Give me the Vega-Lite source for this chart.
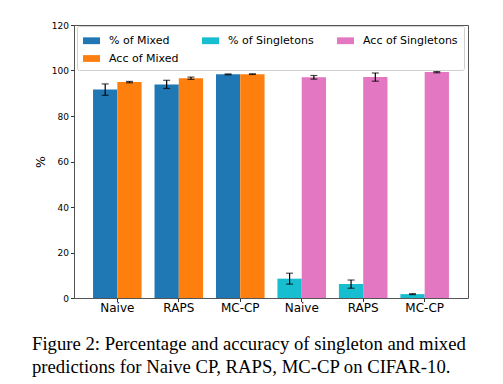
{
  "$schema": "https://vega.github.io/schema/vega-lite/v6.json",
  "width": 394,
  "height": 273,
  "autosize": "none",
  "padding": {"left": 74, "top": 25, "right": 35, "bottom": 86},
  "background": "white",
  "config": {
    "view": {"stroke": "#555", "strokeWidth": 1},
    "font": "DejaVu Sans"
  },
  "title": {
    "text": ["Figure 2: Percentage and accuracy of singleton and mixed", "predictions for Naive CP, RAPS, MC-CP on CIFAR-10."],
    "orient": "bottom",
    "anchor": "start",
    "frame": "group",
    "font": "Liberation Serif",
    "fontSize": 18.7,
    "fontWeight": "normal",
    "color": "black",
    "lineHeight": 23.5,
    "dx": -42,
    "offset": 21
  },
  "data": {
    "values": [
      {"grp": "Naive|M", "sub": "pct", "series": "% of Mixed", "value": 91.6, "lo": 89.1, "hi": 94.1},
      {"grp": "Naive|M", "sub": "acc", "series": "Acc of Mixed", "value": 94.9, "lo": 94.6, "hi": 95.2},
      {"grp": "RAPS|M", "sub": "pct", "series": "% of Mixed", "value": 93.9, "lo": 92.1, "hi": 95.7},
      {"grp": "RAPS|M", "sub": "acc", "series": "Acc of Mixed", "value": 96.6, "lo": 96.1, "hi": 97.1},
      {"grp": "MC-CP|M", "sub": "pct", "series": "% of Mixed", "value": 98.3, "lo": 98.1, "hi": 98.5},
      {"grp": "MC-CP|M", "sub": "acc", "series": "Acc of Mixed", "value": 98.4, "lo": 98.25, "hi": 98.55},
      {"grp": "Naive|S", "sub": "pct", "series": "% of Singletons", "value": 8.5, "lo": 6.1, "hi": 10.9},
      {"grp": "Naive|S", "sub": "acc", "series": "Acc of Singletons", "value": 97.0, "lo": 96.2, "hi": 97.8},
      {"grp": "RAPS|S", "sub": "pct", "series": "% of Singletons", "value": 6.1, "lo": 4.3, "hi": 7.9},
      {"grp": "RAPS|S", "sub": "acc", "series": "Acc of Singletons", "value": 97.1, "lo": 95.3, "hi": 98.9},
      {"grp": "MC-CP|S", "sub": "pct", "series": "% of Singletons", "value": 1.7, "lo": 1.5, "hi": 1.9},
      {"grp": "MC-CP|S", "sub": "acc", "series": "Acc of Singletons", "value": 99.3, "lo": 99.0, "hi": 99.6}
    ]
  },
  "encoding": {
    "x": {
      "field": "grp",
      "type": "nominal",
      "scale": {
        "domain": ["Naive|M", "RAPS|M", "MC-CP|M", "Naive|S", "RAPS|S", "MC-CP|S"],
        "paddingInner": 0.21,
        "paddingOuter": 0.31
      },
      "axis": {
        "title": null,
        "labelExpr": "split(datum.value, '|')[0]",
        "labelAngle": 0,
        "labelFontSize": 12,
        "labelColor": "black",
        "labelPadding": 1,
        "tickSize": 3.5,
        "tickColor": "#333",
        "domain": false
      }
    },
    "xOffset": {"field": "sub", "type": "nominal", "scale": {"domain": ["pct", "acc"]}}
  },
  "layer": [
    {
      "mark": {"type": "bar"},
      "encoding": {
        "y": {
          "field": "value",
          "type": "quantitative",
          "scale": {"domain": [0, 120], "nice": false},
          "axis": {
            "values": [0, 20, 40, 60, 80, 100, 120],
            "grid": false,
            "domain": false,
            "title": "%",
            "titleFontSize": 12.5,
            "titleFontWeight": "normal",
            "titleColor": "black",
            "titlePadding": 4,
            "labelFontSize": 9,
            "labelColor": "black",
            "labelPadding": 2,
            "tickSize": 3.5,
            "tickColor": "#333"
          }
        },
        "color": {
          "field": "series",
          "type": "nominal",
          "scale": {
            "domain": ["% of Mixed", "Acc of Singletons", "% of Singletons", "Acc of Mixed"],
            "range": ["#1f77b4", "#e377c2", "#17becf", "#ff7f0e"]
          },
          "legend": {
            "title": null,
            "orient": "none",
            "legendX": 3,
            "legendY": 1,
            "columns": 3,
            "columnPadding": 23,
            "rowPadding": 4,
            "padding": 6,
            "labelFontSize": 11,
            "labelColor": "black",
            "labelOffset": 9,
            "symbolType": "M-1,-0.4H1V0.4H-1Z",
            "symbolSize": 289,
            "symbolStrokeWidth": 0,
            "symbolOpacity": 1,
            "fillColor": "white",
            "strokeColor": "#d0d0d0",
            "cornerRadius": 2
          }
        }
      }
    },
    {
      "mark": {"type": "rule", "color": "black", "strokeWidth": 1.2},
      "encoding": {
        "y": {"field": "lo", "type": "quantitative"},
        "y2": {"field": "hi"}
      }
    },
    {
      "mark": {"type": "tick", "color": "black", "size": 7, "thickness": 1.2},
      "encoding": {"y": {"field": "lo", "type": "quantitative"}}
    },
    {
      "mark": {"type": "tick", "color": "black", "size": 7, "thickness": 1.2},
      "encoding": {"y": {"field": "hi", "type": "quantitative"}}
    }
  ]
}
